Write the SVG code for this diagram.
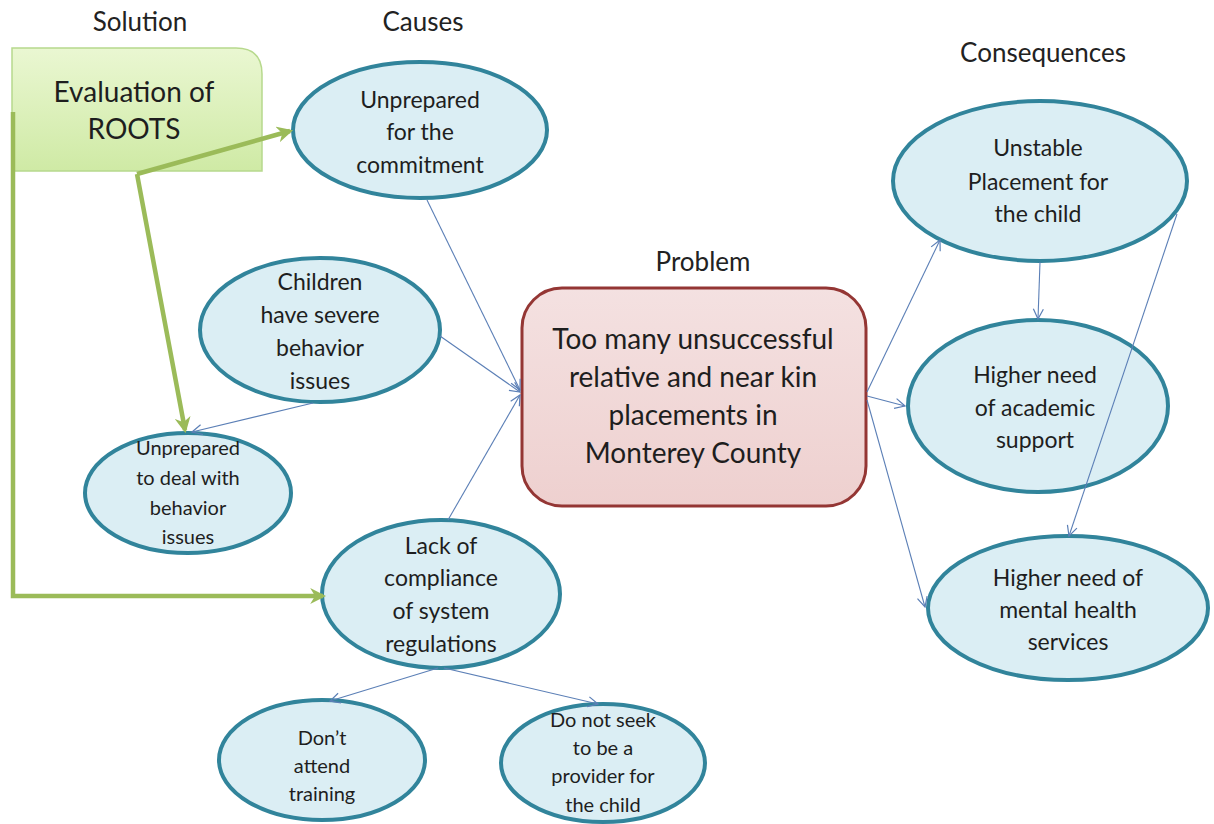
<svg xmlns="http://www.w3.org/2000/svg" width="1214" height="824" viewBox="0 0 1214 824">
<defs>
<linearGradient id="gGreen" x1="0" y1="0" x2="0" y2="1"><stop offset="0" stop-color="#eaf7d2"/><stop offset="1" stop-color="#cfeaa5"/></linearGradient>
<linearGradient id="gRed" x1="0" y1="0" x2="0" y2="1"><stop offset="0" stop-color="#f4e1e1"/><stop offset="1" stop-color="#eed0cf"/></linearGradient>
<marker id="ab" viewBox="0 0 12 12" refX="11" refY="6" markerWidth="12" markerHeight="12" markerUnits="userSpaceOnUse" orient="auto"><path d="M1,1 L11,6 L1,11" fill="none" stroke="#5b7fb6" stroke-width="1.2"/></marker>
<marker id="ag" viewBox="0 0 10 10" refX="8" refY="5" markerWidth="16" markerHeight="16" markerUnits="userSpaceOnUse" orient="auto"><path d="M0,0 L10,5 L0,10 L3,5 Z" fill="#9bbb59"/></marker>
</defs>
<style>
.hd{font-family:Lato,"Open Sans",sans-serif;font-size:26px;fill:#222;text-anchor:middle}
.t{font-family:Lato,"Open Sans",sans-serif;font-size:23px;fill:#1e1e1e;text-anchor:middle}
.s{font-family:Lato,"Open Sans",sans-serif;font-size:20px;fill:#1e1e1e;text-anchor:middle}
.b{font-family:Lato,"Open Sans",sans-serif;font-size:28px;fill:#1e1e1e;text-anchor:middle}
.el{fill:#dbeef4;stroke:#31849b;stroke-width:4}
.c{fill:none;stroke:#5b7fb6;stroke-width:1.1;marker-end:url(#ab)}
.g{fill:none;stroke:#9bbb59;stroke-width:4.5;marker-end:url(#ag)}
</style>
<rect width="1214" height="824" fill="#fff"/>
<g id="headers">
<text class="hd" x="140" y="31">Solution</text>
<text class="hd" x="423" y="31">Causes</text>
<text class="hd" x="703" y="271">Problem</text>
<text class="hd" x="1043" y="62">Consequences</text>
</g>
<g id="solution">
<path d="M12,48 H236 Q262,48 262,74 V171 H12 Z" fill="url(#gGreen)" stroke="#b7d98d" stroke-width="1.5"/>
<text class="b" x="134" y="102">Evaluation of</text>
<text class="b" x="134" y="139">ROOTS</text>
</g>
<g id="problem">
<rect x="522" y="288" width="344" height="218" rx="40" fill="url(#gRed)" stroke="#943634" stroke-width="3"/>
<text class="b" x="693" y="349">Too many unsuccessful</text>
<text class="b" x="693" y="387">relative and near kin</text>
<text class="b" x="693" y="425">placements in</text>
<text class="b" x="693" y="463">Monterey County</text>
</g>
<g id="cause1">
<ellipse class="el" cx="420" cy="130" rx="127" ry="68"/>
<text class="t" x="420" y="108">Unprepared</text>
<text class="t" x="420" y="140">for the</text>
<text class="t" x="420" y="173">commitment</text>
</g>
<g id="cause2">
<ellipse class="el" cx="320" cy="330" rx="120" ry="72"/>
<text class="t" x="320" y="290">Children</text>
<text class="t" x="320" y="323">have severe</text>
<text class="t" x="320" y="356">behavior</text>
<text class="t" x="320" y="389">issues</text>
</g>
<g id="cause2a">
<ellipse class="el" cx="188" cy="493" rx="103" ry="60"/>
<text class="s" x="188" y="455">Unprepared</text>
<text class="s" x="188" y="485">to deal with</text>
<text class="s" x="188" y="515">behavior</text>
<text class="s" x="188" y="544">issues</text>
</g>
<g id="cause3">
<ellipse class="el" cx="441" cy="594" rx="119" ry="74"/>
<text class="t" x="441" y="554">Lack of</text>
<text class="t" x="441" y="586">compliance</text>
<text class="t" x="441" y="619">of system</text>
<text class="t" x="441" y="652">regulations</text>
</g>
<g id="cause3a">
<ellipse class="el" cx="322" cy="760" rx="103" ry="60"/>
<text class="s" x="322" y="745">Don’t</text>
<text class="s" x="322" y="773">attend</text>
<text class="s" x="322" y="801">training</text>
</g>
<g id="cause3b">
<ellipse class="el" cx="603" cy="763" rx="102" ry="59"/>
<text class="s" x="603" y="727">Do not seek</text>
<text class="s" x="603" y="755">to be a</text>
<text class="s" x="603" y="783">provider for</text>
<text class="s" x="603" y="812">the child</text>
</g>
<g id="cons1">
<ellipse class="el" cx="1040" cy="181" rx="147" ry="80"/>
<text class="t" x="1038" y="156">Unstable</text>
<text class="t" x="1038" y="190">Placement for</text>
<text class="t" x="1038" y="222">the child</text>
</g>
<g id="cons2">
<ellipse class="el" cx="1038" cy="406" rx="130" ry="86"/>
<text class="t" x="1035" y="383">Higher need</text>
<text class="t" x="1035" y="416">of academic</text>
<text class="t" x="1035" y="448">support</text>
</g>
<g id="cons3">
<ellipse class="el" cx="1068" cy="608" rx="140" ry="72"/>
<text class="t" x="1068" y="586">Higher need  of</text>
<text class="t" x="1068" y="618">mental health</text>
<text class="t" x="1068" y="650">services</text>
</g>
<g id="connectors">
<line class="c" x1="427" y1="200" x2="520" y2="390"/>
<line class="c" x1="440" y1="336" x2="520" y2="392"/>
<line class="c" x1="448" y1="520" x2="520" y2="395"/>
<line class="c" x1="313" y1="403" x2="192" y2="432"/>
<line class="c" x1="438" y1="668" x2="330" y2="701"/>
<line class="c" x1="444" y1="668" x2="598" y2="704"/>
<line class="c" x1="867" y1="392" x2="940" y2="240"/>
<line class="c" x1="867" y1="396" x2="905" y2="406"/>
<line class="c" x1="867" y1="400" x2="925" y2="607"/>
<line class="c" x1="1040" y1="262" x2="1038" y2="319"/>
<line class="c" x1="1177" y1="214" x2="1069" y2="536"/>
<path class="g" d="M13,112 L13,596 L323,596"/>
<path class="g" d="M137,174 L290,131"/>
<path class="g" d="M137,174 L185,430"/>
</g>
</svg>
